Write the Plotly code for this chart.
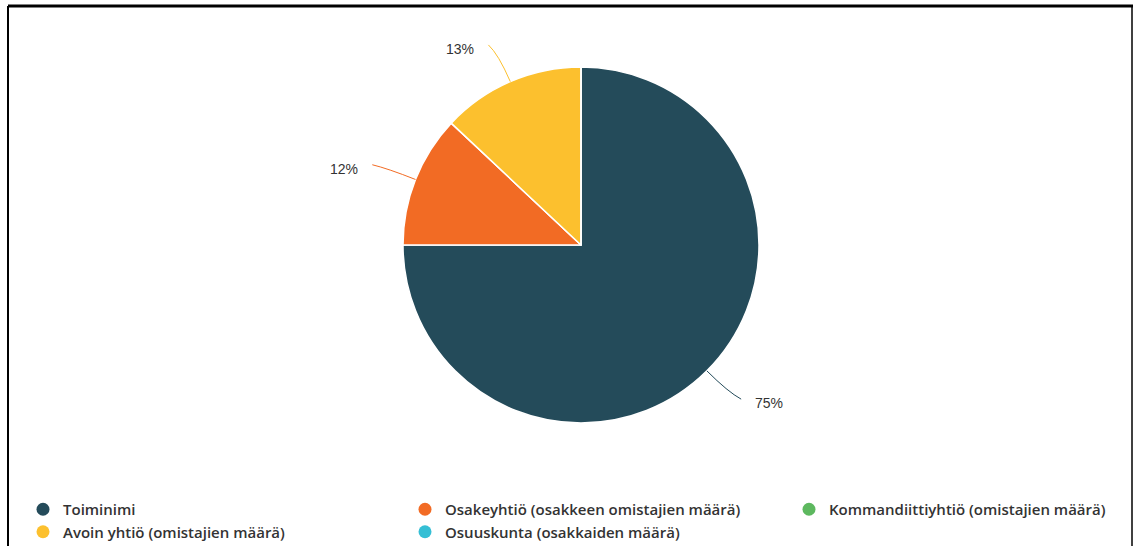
import math
import plotly.graph_objects as go

categories = [
    "Toiminimi",
    "Osakeyhtiö (osakkeen omistajien määrä)",
    "Kommandiittiyhtiö (omistajien määrä)",
    "Avoin yhtiö (omistajien määrä)",
    "Osuuskunta (osakkaiden määrä)",
]
shares = [75, 12, 0, 13, 0]
colors = ["#244B5A", "#F26B24", "#5DB85F", "#FCC02E", "#35BFD5"]
# legend column of each category (3 columns, row-major order)
legend_cols = ["legend", "legend2", "legend3", "legend", "legend2"]

W, H = 1134, 546
CX, CY, R = 581, 245, 178  # pie centre / radius in pixels


def to_paper(x, y):
    # pixel (from top-left) -> paper coords, margins are zero
    return x / W, 1 - y / H


x0, y0 = to_paper(CX - R, CY + R)
x1, y1 = to_paper(CX + R, CY - R)

fig = go.Figure()
fig.add_trace(go.Pie(
    labels=categories,
    values=shares,
    sort=False,
    direction="clockwise",
    rotation=0,
    marker=dict(colors=colors, line=dict(color="white", width=1.5)),
    textinfo="none",
    hoverinfo="label+percent",
    showlegend=False,
    domain=dict(x=[x0, x1], y=[y0, y1]),
))

# legend entries with round markers
for name, col, lg in zip(categories, colors, legend_cols):
    fig.add_trace(go.Scatter(
        x=[None], y=[None], mode="markers", name=name, legend=lg,
        marker=dict(symbol="circle", size=13, color=col),
    ))

# outside labels with curved connectors
total = sum(shares)
cum = 0
shapes = []
annotations = []
for v, col in zip(shares, colors):
    if v == 0:
        continue
    mid = math.radians((cum + v / 2) / total * 360)
    cum += v
    s = 1 if math.sin(mid) >= 0 else -1
    p0 = (CX + R * math.sin(mid), CY - R * math.cos(mid))
    p1 = (CX + (R + 30) * math.sin(mid), CY - (R + 30) * math.cos(mid))
    p2 = (CX + (R + 40) * math.sin(mid) + s * 6, CY - (R + 40) * math.cos(mid))
    a, b, c = to_paper(*p0), to_paper(*p1), to_paper(*p2)
    shapes.append(dict(
        type="path", xref="paper", yref="paper",
        path=f"M {a[0]},{a[1]} Q {b[0]},{b[1]} {c[0]},{c[1]}",
        line=dict(color=col, width=1),
    ))
    tx, ty = to_paper(p2[0] + s * 12, p2[1] + 4)
    annotations.append(dict(
        x=tx, y=ty, xref="paper", yref="paper", showarrow=False,
        text=f"{v / total * 100:.0f}%",
        xanchor="left" if s > 0 else "right", yanchor="middle",
        font=dict(family="Liberation Sans, Arial", size=14, color="#333333"),
    ))

# frame around the chart
shapes += [
    dict(type="line", xref="paper", yref="paper", x0=8 / W, x1=1133 / W, y0=1 - 6 / H, y1=1 - 6 / H,
         line=dict(color="black", width=3)),
    dict(type="line", xref="paper", yref="paper", x0=8 / W, x1=8 / W, y0=0, y1=1 - 6 / H,
         line=dict(color="black", width=2)),
    dict(type="line", xref="paper", yref="paper", x0=1132 / W, x1=1132 / W, y0=0, y1=1 - 6 / H,
         line=dict(color="black", width=1.5)),
]

legend_font = dict(family="Open Sans", size=15, color="#333333", weight=600)
legend_top = to_paper(0, 493)[1]
legends = {}
for key, left in zip(["legend", "legend2", "legend3"], [23, 405, 789]):
    legends[key] = dict(
        orientation="v",
        x=to_paper(left, 0)[0], xanchor="left",
        y=legend_top, yanchor="top",
        font=legend_font,
        bgcolor="rgba(0,0,0,0)",
        tracegroupgap=0,
        itemclick=False, itemdoubleclick=False,
    )

fig.update_layout(
    width=W,
    height=H,
    margin=dict(l=0, r=0, t=0, b=0, autoexpand=False),
    paper_bgcolor="white",
    plot_bgcolor="white",
    xaxis=dict(visible=False),
    yaxis=dict(visible=False),
    shapes=shapes,
    annotations=annotations,
    **legends,
)

# drop the browser's default body margin so the figure fills the window exactly
fig.write_html(
    "out.html",
    config={"displayModeBar": False},
    post_script="document.body.style.margin = '0';",
)
